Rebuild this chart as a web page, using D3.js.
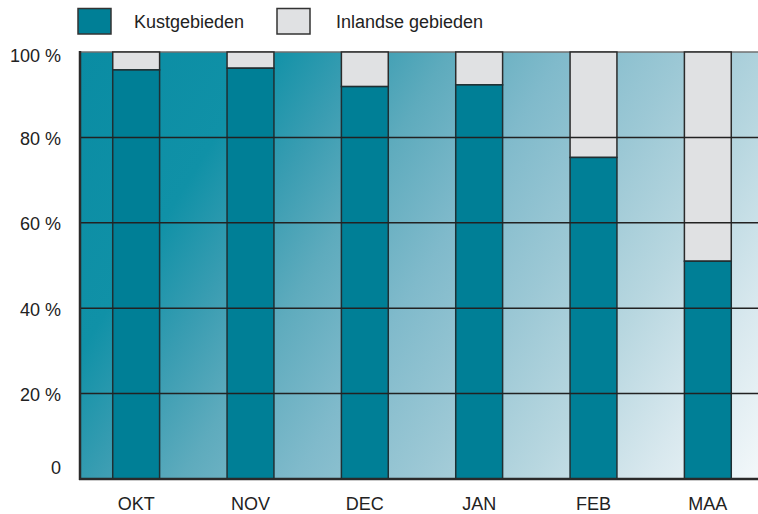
<!DOCTYPE html>
<html>
<head>
<meta charset="utf-8">
<script src="https://cdn.jsdelivr.net/npm/d3@7"></script>
<style>
  html, body { margin: 0; padding: 0; background: #fff; }
  svg { display: block; font-family: "Liberation Sans", Arial, sans-serif; }
</style>
</head>
<body>
<svg id="chart" width="758" height="514"></svg>
<script>
const months = ["OKT", "NOV", "DEC", "JAN", "FEB", "MAA"];
const kust = [95.8, 96.2, 91.9, 92.3, 75.3, 51.0];
const inland = kust.map(v => 100 - v);
const yTicks = [0, 20, 40, 60, 80, 100];
const yTickLabels = ["0", "20 %", "40 %", "60 %", "80 %", "100 %"];
const seriesNames = ["Kustgebieden", "Inlandse gebieden"];
const colors = ["#007f96", "#e0e1e3"];

const svg = d3.select("#chart");
const pLeft = 80, pRight = 758, pTop = 52, pBottom = 479;

const x = d3.scaleBand().domain(months).range([79, 765]).paddingInner(0.59).paddingOuter(0.295);
const y = d3.scaleLinear().domain([0, 100]).range([pBottom, pTop]);

// background gradient
const defs = svg.append("defs");
const grad = defs.append("linearGradient").attr("id", "bg")
  .attr("gradientUnits", "userSpaceOnUse")
  .attr("x1", pLeft).attr("y1", pTop).attr("x2", pRight).attr("y2", pBottom);
[[0, "#0a8ca3"], [0.2, "#1091a7"], [0.3, "#3a9db2"], [0.39, "#5eabbd"], [0.51, "#80bacb"],
 [0.64, "#9cc8d5"], [0.76, "#b8d7e0"], [0.88, "#d8e8ee"], [1, "#f3f8fa"]]
  .forEach(([o, c]) => grad.append("stop").attr("offset", o).attr("stop-color", c));

svg.append("rect").attr("x", pLeft).attr("y", pTop)
  .attr("width", pRight - pLeft).attr("height", pBottom - pTop).attr("fill", "url(#bg)");

// top border
svg.append("line").attr("x1", pLeft).attr("x2", pRight).attr("y1", pTop).attr("y2", pTop)
  .attr("stroke", "#6f6f6f").attr("stroke-width", 1.5);

// bars
const g = svg.append("g");
g.selectAll("rect.inl").data(months).join("rect").attr("class", "inl")
  .attr("x", d => x(d)).attr("width", x.bandwidth())
  .attr("y", (d, i) => y(kust[i] + inland[i]))
  .attr("height", (d, i) => y(kust[i]) - y(kust[i] + inland[i]))
  .attr("fill", colors[1]).attr("stroke", "#2b2b2b").attr("stroke-width", 1.5);
g.selectAll("rect.kust").data(months).join("rect").attr("class", "kust")
  .attr("x", d => x(d)).attr("width", x.bandwidth())
  .attr("y", (d, i) => y(kust[i]))
  .attr("height", (d, i) => y(0) - y(kust[i]))
  .attr("fill", colors[0]).attr("stroke", "#1f2f33").attr("stroke-width", 1.5);

// gridlines (over bars)
svg.selectAll("line.grid").data(yTicks.filter(t => t > 0 && t < 100)).join("line")
  .attr("class", "grid")
  .attr("x1", pLeft).attr("x2", pRight)
  .attr("y1", d => y(d)).attr("y2", d => y(d))
  .attr("stroke", "#222").attr("stroke-width", 1.5);

// axes lines
svg.append("line").attr("x1", pLeft).attr("x2", pLeft).attr("y1", pTop - 1).attr("y2", pBottom + 1)
  .attr("stroke", "#2a2a2a").attr("stroke-width", 2.5);
svg.append("line").attr("x1", pLeft - 1).attr("x2", pRight).attr("y1", pBottom).attr("y2", pBottom)
  .attr("stroke", "#2a2a2a").attr("stroke-width", 2.5);

// y labels
svg.selectAll("text.yl").data(yTicks).join("text").attr("class", "yl")
  .attr("x", 61)
  .attr("y", d => d === 0 ? y(d) - 11 : y(d) + (d === 100 ? 4 : 1))
  .attr("dy", "0.35em")
  .attr("text-anchor", "end")
  .attr("font-size", 18).attr("fill", "#222")
  .text((d, i) => yTickLabels[i]);

// x labels
svg.selectAll("text.xl").data(months).join("text").attr("class", "xl")
  .attr("x", d => x(d) + x.bandwidth() / 2)
  .attr("y", 510)
  .attr("text-anchor", "middle")
  .attr("font-size", 18).attr("fill", "#222")
  .text(d => d);

// legend
const leg = [{ x: 78, tx: 134 }, { x: 277, tx: 336 }];
leg.forEach((l, i) => {
  svg.append("rect").attr("x", l.x).attr("y", 8.5).attr("width", 33).attr("height", 25.5)
    .attr("fill", colors[i]).attr("stroke", "#333").attr("stroke-width", 1.5);
  svg.append("text").attr("x", l.tx).attr("y", 28).attr("font-size", 18).attr("fill", "#222")
    .text(seriesNames[i]);
});
</script>
</body>
</html>
